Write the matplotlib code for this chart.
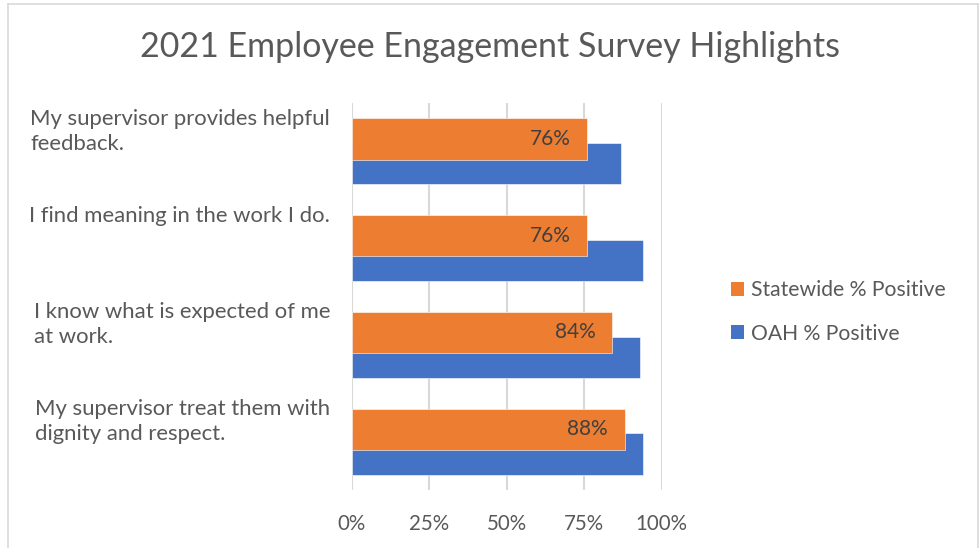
import matplotlib
matplotlib.use("Agg")
import matplotlib.pyplot as plt
import matplotlib.transforms as mtransforms
from matplotlib.patches import Patch
from matplotlib.lines import Line2D

categories = [
    "My supervisor provides helpful\nfeedback.",
    "I find meaning in the work I do.",
    "I know what is expected of me\nat work.",
    "My supervisor treat them with\ndignity and respect.",
]
statewide = [0.76, 0.76, 0.84, 0.88]
oah = [0.87, 0.94, 0.93, 0.94]
xticks = [0, 0.25, 0.5, 0.75, 1.0]
xtick_labels = ["0%", "25%", "50%", "75%", "100%"]
series_names = ["Statewide % Positive", "OAH % Positive"]

ORANGE = "#ED7D31"
BLUE = "#4472C4"
FONT = "Lato"

fig = plt.figure(figsize=(9.8, 5.48), dpi=100)
ax = fig.add_axes([352/980, 1-490/548, (661.7-352)/980, (490-103)/548])

ys = list(range(len(categories)))
h = 0.424
off = 0.128
ax.barh([y - off for y in ys], statewide, height=h, color=ORANGE, zorder=3,
        edgecolor="white", linewidth=0.4)
ax.barh([y + off for y in ys], oah, height=h, color=BLUE, zorder=2,
        edgecolor="white", linewidth=0.4)

for y, v in zip(ys, statewide):
    ax.text(v - 0.053, y - off, f"{round(v*100)}%", ha="right", va="center",
            fontsize=15, color="#404040", family=FONT, zorder=4)

ax.set_xlim(0, 1.0)
ax.set_ylim(len(categories) - 0.5, -0.5)
ax.set_xticks(xticks)
ax.set_xticklabels(xtick_labels, fontsize=14.8, color="#595959", family=FONT)
ax.tick_params(axis="x", length=0, pad=17)
ax.set_yticks([])
ax.grid(axis="x", color="#D9D9D9", linewidth=1.5, zorder=0)
for s in ax.spines.values():
    s.set_visible(False)

trans = mtransforms.blended_transform_factory(fig.transFigure, ax.transData)
for y, lab in zip(ys, categories):
    ax.text(330/980, y - 0.44, lab, transform=trans, ha="right", va="top",
            multialignment="left", fontsize=15.9, color="#595959", family=FONT,
            linespacing=1.3)

fig.text(0.5, 1-47/548, "2021 Employee Engagement Survey Highlights",
         ha="center", va="center", fontsize=24.5, color="#595959", family=FONT)

handles = [Patch(facecolor=ORANGE), Patch(facecolor=BLUE)]
leg = fig.legend(handles, series_names, loc="center left",
                 bbox_to_anchor=(712/980, 1-312/548), frameon=False,
                 prop={"family": FONT, "size": 15.2}, handlelength=0.6,
                 handleheight=0.6, handletextpad=0.35, labelspacing=1.1)
for t in leg.get_texts():
    t.set_color("#595959")

# outer chart border
border = "#D9D9D9"
fig.add_artist(Line2D([8/980, 8/980], [0, 1-4/548], transform=fig.transFigure, color=border, lw=1.2))
fig.add_artist(Line2D([977.5/980, 977.5/980], [0, 1-4/548], transform=fig.transFigure, color=border, lw=1.2))
fig.add_artist(Line2D([8/980, 977.5/980], [1-4/548, 1-4/548], transform=fig.transFigure, color=border, lw=1.2))

fig.savefig("out.png", dpi=100)
